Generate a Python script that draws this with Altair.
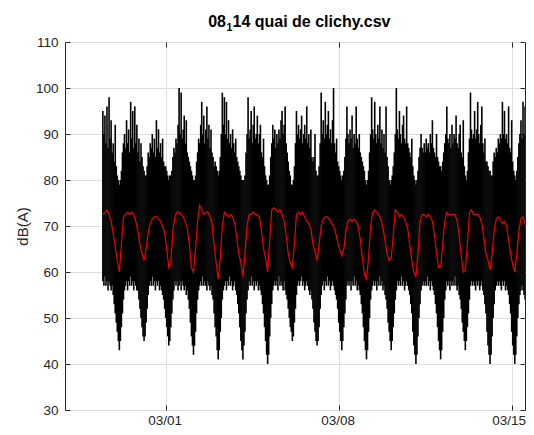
import altair as alt
import pandas as pd

# ---- data ----
# hourly upper envelope of the black (raw) signal, dB(A); first day starts 2019-02-26 11:00
UPPER_BY_DAY = [
    [95, 90, 94, 88, 96, 87, 98, 89, 93, 86, 88, 84, 92],                                   # 02/26 11h-23h
    [83, 81, 80, 79, 80, 82, 86, 88, 90, 87, 93, 88, 91, 86, 97, 89, 95, 87, 96, 88, 92, 86, 89, 84],  # 02/27
    [88, 85, 83, 82, 81, 81, 83, 86, 85, 88, 87, 90, 86, 89, 85, 93, 87, 91, 86, 88, 85, 89, 84, 83],  # 02/28
    [83, 82, 81, 80, 81, 81, 82, 85, 87, 86, 89, 88, 92, 100, 90, 99, 89, 91, 94, 88, 93, 86, 85, 84], # 03/01
    [83, 82, 81, 80, 80, 81, 84, 86, 89, 88, 92, 97, 90, 94, 88, 91, 96, 89, 92, 87, 91, 86, 85, 83],  # 03/02
    [84, 83, 82, 81, 82, 85, 90, 99, 92, 98, 90, 97, 89, 93, 88, 90, 87, 91, 88, 86, 89, 85, 84, 83],  # 03/03
    [82, 81, 80, 80, 80, 81, 86, 90, 98, 89, 91, 95, 88, 92, 96, 89, 90, 94, 88, 90, 92, 86, 85, 89],  # 03/04
    [83, 81, 80, 79, 79, 81, 85, 88, 92, 89, 91, 87, 90, 88, 91, 89, 93, 95, 90, 92, 96, 88, 86, 84],  # 03/05
    [82, 81, 79, 79, 80, 83, 88, 95, 90, 92, 89, 91, 94, 88, 90, 92, 89, 96, 88, 90, 87, 91, 85, 84],  # 03/06
    [85, 90, 82, 81, 81, 83, 88, 99, 90, 93, 89, 97, 90, 92, 95, 89, 91, 88, 93, 100, 88, 86, 89, 84], # 03/07
    [83, 82, 81, 80, 81, 82, 85, 89, 96, 90, 88, 91, 89, 94, 87, 90, 88, 96, 89, 87, 90, 86, 85, 84],  # 03/08
    [83, 82, 80, 79, 80, 82, 86, 90, 98, 91, 89, 97, 90, 88, 92, 89, 96, 88, 91, 87, 90, 86, 96, 85],  # 03/09
    [83, 80, 79, 80, 81, 83, 86, 90, 100, 91, 89, 95, 90, 88, 92, 94, 89, 88, 96, 88, 87, 86, 85, 89], # 03/10
    [83, 81, 80, 79, 80, 82, 85, 87, 90, 87, 86, 88, 86, 89, 87, 88, 86, 90, 88, 93, 87, 86, 85, 90],  # 03/11
    [85, 84, 83, 83, 82, 84, 86, 88, 90, 96, 89, 88, 90, 87, 92, 88, 90, 89, 94, 88, 87, 90, 92, 86],  # 03/12
    [85, 93, 83, 81, 80, 82, 86, 89, 99, 91, 89, 90, 95, 89, 91, 97, 90, 88, 92, 96, 88, 86, 89, 84],  # 03/13
    [84, 83, 82, 82, 81, 81, 84, 86, 85, 87, 86, 89, 88, 90, 89, 97, 90, 95, 89, 90, 88, 96, 87, 86],  # 03/14
    [93, 84, 82, 81, 80, 82, 85, 88, 90, 93, 89, 97, 90, 96, 89, 91, 88],                   # 03/15 0h-16h
]

# hourly lower envelope of the black (raw) signal, dB(A)
LOWER_BY_DAY = [
    [58, 57, 59, 57, 58, 56, 58, 57, 56, 57, 55, 53, 51],
    [49, 47, 45, 43, 45, 48, 51, 54, 56, 57, 58, 56, 58, 57, 59, 57, 58, 56, 58, 57, 56, 56, 54, 52],
    [50, 48, 46, 45, 46, 49, 52, 55, 57, 58, 57, 59, 57, 58, 56, 58, 57, 58, 56, 57, 56, 55, 54, 52],
    [50, 48, 46, 44, 45, 48, 51, 54, 56, 58, 57, 58, 56, 57, 58, 56, 58, 57, 56, 57, 55, 56, 54, 52],
    [49, 46, 44, 42, 44, 47, 51, 54, 56, 57, 58, 57, 59, 57, 58, 57, 56, 58, 57, 56, 57, 55, 54, 51],
    [48, 46, 43, 41, 43, 47, 50, 54, 56, 57, 58, 56, 58, 57, 59, 57, 58, 56, 57, 58, 56, 55, 53, 51],
    [48, 45, 43, 41, 44, 47, 51, 54, 56, 58, 57, 59, 57, 58, 56, 58, 57, 58, 56, 57, 56, 55, 53, 51],
    [48, 45, 42, 40, 42, 46, 50, 53, 56, 57, 58, 57, 58, 56, 59, 57, 58, 57, 56, 58, 56, 55, 54, 52],
    [50, 48, 47, 45, 46, 49, 52, 55, 57, 58, 57, 58, 59, 57, 58, 56, 57, 58, 57, 56, 55, 56, 54, 52],
    [49, 47, 45, 44, 45, 48, 52, 55, 57, 58, 56, 58, 57, 59, 57, 58, 56, 57, 58, 57, 56, 55, 54, 52],
    [49, 47, 45, 43, 45, 48, 51, 54, 57, 58, 57, 58, 56, 58, 57, 59, 57, 58, 56, 57, 56, 55, 53, 51],
    [48, 45, 43, 41, 43, 47, 50, 54, 56, 57, 58, 57, 58, 56, 58, 57, 59, 57, 58, 56, 57, 55, 54, 52],
    [49, 47, 45, 43, 45, 48, 51, 54, 56, 58, 57, 58, 57, 59, 57, 58, 56, 57, 58, 57, 56, 55, 53, 51],
    [47, 44, 42, 40, 42, 46, 50, 53, 56, 57, 58, 57, 58, 57, 59, 57, 58, 56, 58, 57, 56, 55, 53, 51],
    [48, 45, 43, 41, 43, 47, 50, 54, 56, 58, 57, 58, 56, 58, 57, 58, 57, 59, 57, 56, 57, 55, 54, 52],
    [49, 47, 45, 43, 45, 48, 51, 54, 57, 58, 57, 58, 57, 56, 58, 57, 58, 56, 57, 58, 56, 55, 53, 51],
    [47, 44, 42, 40, 42, 46, 50, 53, 56, 57, 58, 57, 58, 57, 56, 58, 57, 58, 56, 57, 56, 55, 53, 51],
    [47, 44, 42, 40, 42, 46, 50, 53, 55, 56, 57, 56, 55, 54, 52, 51, 52],
]

# two-hourly averaged level (red), at odd hours; first value 2019-02-26 11:00
RED_BY_DAY = [
    [72.5, 73, 73.5, 72.5, 71, 68.5, 65.5],
    [62.5, 60, 66, 72, 72.5, 73, 72.5, 73, 72.5, 71, 69, 66],
    [64, 62.5, 65, 68.5, 70.5, 71.5, 72, 72, 71.5, 71, 70, 68.5],
    [65, 61, 62, 69, 72, 73, 73, 72.5, 72, 71, 69.5, 66],
    [61, 60, 65, 71, 74.5, 73.5, 72.5, 73, 73, 72, 70.5, 66],
    [62, 58.5, 63, 70, 73, 72.5, 72, 72.5, 72, 70.5, 67.5, 64],
    [62, 59, 64, 70, 72.5, 72.5, 73, 72.5, 72.5, 72, 69, 65],
    [63, 60, 67, 73.5, 74, 73.5, 73, 73.5, 72.5, 71, 68, 64],
    [62, 61, 66, 72.5, 73, 72.5, 73, 72, 71, 70.5, 69.5, 66],
    [64.5, 62.5, 66, 70, 71.5, 72, 72, 71.5, 70.5, 70, 68.5, 66.5],
    [65, 63.5, 65, 69, 71, 71.5, 71, 71.5, 71, 70, 67, 63],
    [59.5, 58.5, 63, 70, 73, 73.5, 73, 72.5, 71.5, 69.5, 67, 64],
    [62.5, 63, 68, 73.5, 73, 72, 72.5, 72, 71, 69.5, 66, 62.5],
    [60, 59, 64, 71, 72.5, 72.5, 72, 72.5, 72, 71, 68, 64],
    [61, 61, 66, 71, 73, 72.5, 72.5, 72.5, 72.5, 71, 68, 63.5],
    [60, 60.5, 66, 73, 73.5, 72.5, 72.5, 72.5, 72, 70.5, 67.5, 64],
    [62.5, 60.5, 64, 69, 71.5, 72, 71.5, 70.5, 71, 70, 67, 64],
    [61.5, 60, 64, 69, 71.5, 72, 70.5, 67.5],
]

Y_TICKS = [30, 40, 50, 60, 70, 80, 90, 100, 110]
TITLE_MAIN = "08"
TITLE_SUB = "1"
TITLE_REST = "14 quai de clichy.csv"
Y_TITLE = "dB(A)"

upper = [v for day in UPPER_BY_DAY for v in day]
lower = [v for day in LOWER_BY_DAY for v in day]
red = [v for day in RED_BY_DAY for v in day]

fmt = "%Y-%m-%dT%H:%M:%S"
t_raw = pd.date_range("2019-02-26 11:00", periods=len(upper), freq="h").strftime(fmt)
t_red = pd.date_range("2019-02-26 11:00", periods=len(red), freq="2h").strftime(fmt)

raw_df = pd.DataFrame({"t": t_raw, "lo": lower, "hi": upper})
red_df = pd.DataFrame({"t": t_red, "v": red})

W, H = 460, 368
FONT = "Liberation Sans"
INK = "#262626"

x_ticks = [alt.DateTime(year=2019, month=3, date=d) for d in (1, 8, 15)]
x_scale = alt.Scale(domain=[alt.DateTime(year=2019, month=2, date=24, hours=22, minutes=13),
                            alt.DateTime(year=2019, month=3, date=15, hours=12, minutes=56)])
y_scale = alt.Scale(domain=[30, 110], nice=False, zero=False)

# last date label sits a little left of its tick, as in the reference
x_label_offset = {"condition": {"test": "datum.value > datetime(2019, 2, 10)", "value": -3}, "value": -1}

# main layer: labels + grid
black = alt.Chart(raw_df).mark_rule(color="#000000", strokeWidth=1.6, clip=True).encode(
    x=alt.X("t:T", scale=x_scale,
            axis=alt.Axis(values=x_ticks, format="%m/%d", title=None, ticks=False, domain=False,
                          grid=True, gridColor="#dedede", labelFont=FONT, labelFontSize=13.5,
                          labelColor=INK, labelPadding=3, labelOffset=x_label_offset)),
    y=alt.Y("lo:Q", scale=y_scale,
            axis=alt.Axis(values=Y_TICKS, title=Y_TITLE, ticks=False, domain=False, grid=True,
                          gridColor="#dedede", labelFont=FONT, labelFontSize=13.5, labelColor=INK,
                          labelPadding=7, titleFont=FONT, titleFontSize=15, titleFontWeight="normal",
                          titleColor=INK, titleX=-43, titleY=H / 2, titleAngle=270,
                          titleAlign="center", titleBaseline="middle")),
    y2="hi:Q",
)

tick_axis = dict(labels=False, domain=False, grid=False, ticks=True, tickSize=5,
                 tickColor=INK, tickWidth=1, title=None)

# red line + inward ticks on bottom and right edges
red_line = alt.Chart(red_df).mark_line(color="#ee0000", strokeWidth=1.2, clip=True).encode(
    x=alt.X("t:T", scale=x_scale, axis=alt.Axis(values=x_ticks, orient="top", offset=-H, **tick_axis)),
    y=alt.Y("v:Q", scale=y_scale, axis=alt.Axis(values=Y_TICKS, orient="right", offset=-W, **tick_axis)),
)

# invisible layer carrying inward ticks on top and left edges
ghost = alt.Chart(red_df).mark_line(opacity=0, clip=True).encode(
    x=alt.X("t:T", scale=x_scale, axis=alt.Axis(values=x_ticks, orient="bottom", offset=-H, **tick_axis)),
    y=alt.Y("v:Q", scale=y_scale, axis=alt.Axis(values=Y_TICKS, orient="left", offset=-W, **tick_axis)),
)

# title with a subscript (MATLAB-style "08_114 ...")
def title_piece(text, size, align, x, y):
    return alt.Chart(pd.DataFrame({"s": [text]})).mark_text(
        font=FONT, fontSize=size, fontWeight="bold", color="#000000",
        align=align, baseline="alphabetic"
    ).encode(text="s:N", x=alt.value(x), y=alt.value(y))

t1 = title_piece(TITLE_MAIN, 16, "right", 161, -15)
t2 = title_piece(TITLE_SUB, 10.5, "left", 161.5, -11.5)
t3 = title_piece(TITLE_REST, 16, "left", 167.5, -15)

chart = alt.layer(black, red_line, ghost, t1, t2, t3).resolve_axis(
    x="independent", y="independent"
).properties(
    width=W, height=H,
    autosize=alt.AutoSizeParams(type="none"),
    padding={"left": 57, "top": 34, "right": 1, "bottom": 17},
    background="#ffffff",
).configure_view(stroke=INK, strokeWidth=1)

chart.save("out.html", embed_options={"renderer": "svg", "actions": False})
